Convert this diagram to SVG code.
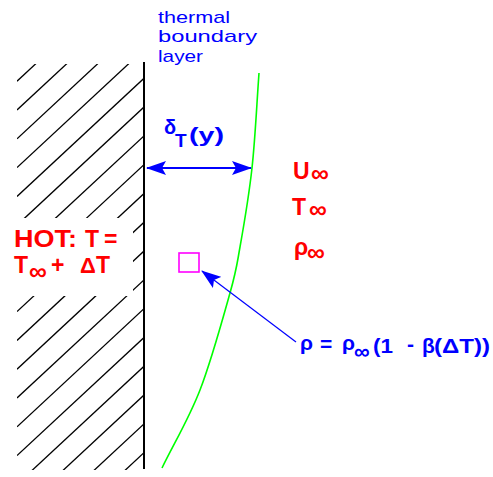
<svg xmlns="http://www.w3.org/2000/svg" width="493" height="477" viewBox="0 0 493 477">
<style>
.hatch line{stroke:#000;stroke-width:1.3}
.wall{stroke:#000;stroke-width:2}
.t{font-family:"Liberation Sans","DejaVu Sans",sans-serif}
.red{fill:#ff0000;font-weight:bold;font-size:23px}
.blue{fill:#0000ff}
.bb{fill:#0000ff;font-weight:bold;font-size:21px}
.title{fill:#0000ff;font-size:17px}
</style>
<defs>
<clipPath id="wallclip"><rect x="17" y="64" width="127" height="406"/></clipPath>
<marker id="ah" viewBox="0 0 20 14" refX="19" refY="7" markerWidth="20" markerHeight="14" markerUnits="userSpaceOnUse" orient="auto-start-reverse">
<path d="M0,0 L20,7 L0,14 L4,7 z" fill="#0000ff"/>
</marker>
</defs>
<rect width="493" height="477" fill="#fff"/>

<g id="hot-wall">
<g class="hatch" clip-path="url(#wallclip)">
<line x1="17" y1="81.2" x2="144" y2="-36.9"/>
<line x1="17" y1="110" x2="144" y2="-8.1"/>
<line x1="17" y1="138.8" x2="144" y2="20.7"/>
<line x1="17" y1="167.6" x2="144" y2="49.5"/>
<line x1="17" y1="196.4" x2="144" y2="78.3"/>
<line x1="17" y1="225.2" x2="144" y2="107.1"/>
<line x1="17" y1="254" x2="144" y2="135.9"/>
<line x1="17" y1="282.8" x2="144" y2="164.7"/>
<line x1="17" y1="311.6" x2="144" y2="193.5"/>
<line x1="17" y1="340.4" x2="144" y2="222.3"/>
<line x1="17" y1="369.2" x2="144" y2="251.1"/>
<line x1="17" y1="398" x2="144" y2="279.9"/>
<line x1="17" y1="426.8" x2="144" y2="308.7"/>
<line x1="17" y1="455.6" x2="144" y2="337.5"/>
<line x1="17" y1="484.4" x2="144" y2="366.3"/>
<line x1="17" y1="513.2" x2="144" y2="395.1"/>
<line x1="17" y1="542" x2="144" y2="423.9"/>
<line x1="17" y1="570.8" x2="144" y2="452.7"/>
</g>
<rect x="10" y="218" width="123" height="78" fill="#fff"/>
<line class="wall" x1="144" y1="62" x2="144" y2="469"/>
<g class="t red">
<text x="14" y="247" textLength="63" lengthAdjust="spacingAndGlyphs">HOT:</text>
<text x="85" y="247">T</text>
<text x="104" y="247">=</text>
<text x="14" y="273">T</text>
<text x="29" y="280" font-size="25">∞</text>
<text x="51" y="273">+</text>
<text x="80" y="273" font-size="22">Δ</text>
<text x="96" y="273">T</text>
</g>
</g>

<g id="boundary-layer">
<path d="M259,73 C256.7,104.7 255.2,139 252,168 C248.8,197 243.7,226.2 240,247 C236.3,267.8 236.7,269.2 230,293 C223.3,316.8 211.3,360.8 200,390 C188.7,419.2 174.7,442 162,468" fill="none" stroke="#00ff00" stroke-width="1.6"/>
<g class="t title">
<text x="158" y="23" textLength="72" lengthAdjust="spacingAndGlyphs">thermal</text>
<text x="158" y="42" textLength="99" lengthAdjust="spacingAndGlyphs">boundary</text>
<text x="158" y="62" textLength="45" lengthAdjust="spacingAndGlyphs">layer</text>
</g>
</g>

<g id="thickness-label" class="t blue" font-weight="bold">
<text x="164" y="134" font-size="20">δ</text>
<text x="175" y="147" font-size="19">T</text>
<text x="189" y="142" font-size="20" textLength="35" lengthAdjust="spacingAndGlyphs">(y)</text>
</g>

<g id="freestream" class="t red">
<text x="293" y="179">U</text>
<text x="311" y="182" font-size="25">∞</text>
<text x="292" y="215">T</text>
<text x="309" y="218" font-size="25">∞</text>
<text x="294" y="255">ρ</text>
<text x="307" y="261" font-size="25">∞</text>
</g>

<g id="fluid-element">
<rect x="179" y="253" width="20" height="19" fill="none" stroke="#ff00ff" stroke-width="1.6"/>
</g>

<g id="density-label" class="t bb">
<text x="300" y="350">ρ</text>
<text x="320" y="351">=</text>
<text x="342" y="350">ρ</text>
<text x="354" y="359" font-size="22">∞</text>
<text x="373" y="353" textLength="20" lengthAdjust="spacingAndGlyphs">(1</text>
<text x="407" y="351">-</text>
<text x="422" y="353">β</text>
<text x="434" y="353" textLength="56" lengthAdjust="spacingAndGlyphs">(ΔT))</text>
</g>

<g id="connectors" fill="none" stroke="#0000ff">
<line x1="147" y1="168" x2="251" y2="168" stroke-width="2" marker-start="url(#ah)" marker-end="url(#ah)"/>
<line x1="296" y1="342" x2="202" y2="271" stroke-width="1.2" marker-end="url(#ah)"/>
</g>
</svg>
